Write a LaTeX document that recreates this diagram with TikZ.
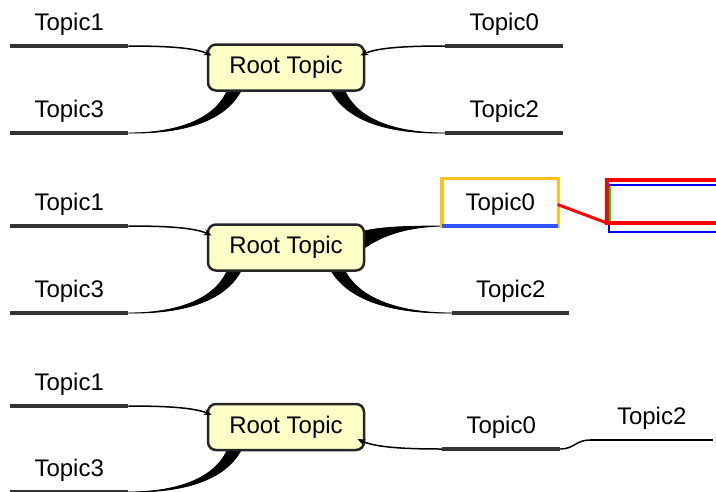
\documentclass[tikz,border=0pt]{standalone}
\usepackage{fontspec}
\setmainfont{Liberation Sans}
\usetikzlibrary{arrows.meta}
\pgfdeclarelayer{fond}
\pgfsetlayers{fond,main}
\definecolor{jaune}{HTML}{FFFFC8}
\definecolor{orangecadre}{HTML}{FFC020}
\definecolor{bleutrait}{HTML}{3355FF}
\begin{document}
\begin{tikzpicture}[x=1pt, y=-1pt,
    racine/.style={draw=black!85, line width=2.5pt, rounded corners=8pt, fill=jaune,
      minimum width=156pt, minimum height=46pt, inner sep=0pt,
      text height=17pt, text depth=5pt, font=\fontsize{24}{28}\selectfont},
    sujet/.style={anchor=south west, minimum width=118pt, inner xsep=0pt, inner ysep=10pt,
      text height=17pt, text depth=5pt, font=\fontsize{24}{28}\selectfont},
    trait/.style={draw=black!80, line width=3.5pt},
    fin/.style={draw=black, line width=1.5pt},
    pointe/.style={fin, -{Stealth[length=8pt,width=6pt]}},
    branche/.style={fill=black, draw=black, line width=0.8pt}]
    \useasboundingbox (0,0) rectangle (716,491);

    % Dessiner la premiere carte
    \node[racine] (rA) at (286,67.5) {Root Topic};
    \node[sujet] (A1) at (10,46) {Topic1};
    \node[sujet] (A3) at (10,133) {Topic3};
    \node[sujet] (A0) at (445,46) {Topic0};
    \node[sujet] (A2) at (445,133) {Topic2};
    \foreach \s in {A1,A3,A0,A2}
      \draw[trait] (\s.south west) -- (\s.south east);
    \draw[pointe] (A1.south east) .. controls (170,46) and (195,48) .. ([xshift=5pt,yshift=12pt]rA.west);
    \draw[pointe] (A0.south west) .. controls (402,46) and (377,48) .. ([xshift=-5pt,yshift=12pt]rA.east);
    \begin{pgfonlayer}{fond}
      \filldraw[branche] (A3.south east) .. controls (185,133) and (218,115) .. ([xshift=-58pt,yshift=3pt]rA.south)
        -- ([xshift=-44pt,yshift=3pt]rA.south) .. controls (228,118) and (190,134) .. (A3.south east) -- cycle;
      \filldraw[branche] (A2.south west) .. controls (387,133) and (354,115) .. ([xshift=58pt,yshift=3pt]rA.south)
        -- ([xshift=44pt,yshift=3pt]rA.south) .. controls (344,118) and (382,134) .. (A2.south west) -- cycle;
    \end{pgfonlayer}

    % Dessiner la deuxieme carte (sujet selectionne)
    \node[racine] (rB) at (286,247.5) {Root Topic};
    \node[sujet] (B1) at (10,226) {Topic1};
    \node[sujet] (B3) at (10,313) {Topic3};
    \node[sujet, minimum width=116pt] (B0) at (442,226) {Topic0};
    \node[sujet, minimum width=117pt] (B2) at (452,313) {Topic2};
    \foreach \s in {B1,B3,B2}
      \draw[trait] (\s.south west) -- (\s.south east);
    \draw[pointe] (B1.south east) .. controls (170,226) and (195,228) .. ([xshift=5pt,yshift=12pt]rB.west);
    \begin{pgfonlayer}{fond}
      \filldraw[branche] (B3.south east) .. controls (185,313) and (218,295) .. ([xshift=-58pt,yshift=3pt]rB.south)
        -- ([xshift=-44pt,yshift=3pt]rB.south) .. controls (228,298) and (190,314) .. (B3.south east) -- cycle;
      \filldraw[branche] (B2.south west) .. controls (392,313) and (356,295) .. ([xshift=58pt,yshift=3pt]rB.south)
        -- ([xshift=44pt,yshift=3pt]rB.south) .. controls (346,298) and (387,314) .. (B2.south west) -- cycle;
      \filldraw[branche] (B0.south west) .. controls (405,226) and (380,227) .. ([xshift=-3pt,yshift=16pt]rB.east)
        -- ([xshift=-3pt,yshift=-2pt]rB.east) .. controls (382,235) and (407,227) .. (B0.south west) -- cycle;
    \end{pgfonlayer}
    % Dessiner le cadre de selection et la cible
    \draw[orangecadre, line width=3.5pt] (B0.south west) rectangle ([yshift=5pt]B0.north east);
    \draw[bleutrait, line width=3.5pt] (B0.south west) -- (B0.south east);
    \coordinate (cible) at (607,223);
    \draw[blue, line width=2pt] (609,185) rectangle (730,232);
    \draw[red, line width=4pt] (cible) rectangle (730,180);
    \draw[green!90!black, line width=1.5pt] (610,187) -- (610,221);
    \draw[red, line width=3pt] (B0.east) -- (cible);
    \fill[magenta] (B0.east) circle (1.5pt);

    % Dessiner la troisieme carte (sujet deplace)
    \node[racine] (rC) at (286,427) {Root Topic};
    \node[sujet] (C1) at (10,406) {Topic1};
    \node[sujet] (C3) at (10,492) {Topic3};
    \node[sujet] (C0) at (442,449) {Topic0};
    \node[sujet, minimum width=123pt] (C2) at (590,440) {Topic2};
    \foreach \s in {C1,C3,C0}
      \draw[trait] (\s.south west) -- (\s.south east);
    \draw[fin] (C2.south west) -- (C2.south east);
    \draw[pointe] (C1.south east) .. controls (170,406) and (195,408) .. ([xshift=5pt,yshift=12pt]rC.west);
    \draw[pointe] (C0.south west) .. controls (400,449) and (375,447) .. ([xshift=-8pt,yshift=-12pt]rC.east);
    \draw[fin] (C0.south east) .. controls (574,449) and (576,440) .. (C2.south west);
    \begin{pgfonlayer}{fond}
      \filldraw[branche] (C3.south east) .. controls (185,492) and (218,474) .. ([xshift=-58pt,yshift=3pt]rC.south)
        -- ([xshift=-44pt,yshift=3pt]rC.south) .. controls (228,477) and (190,493) .. (C3.south east) -- cycle;
    \end{pgfonlayer}
\end{tikzpicture}
\end{document}
